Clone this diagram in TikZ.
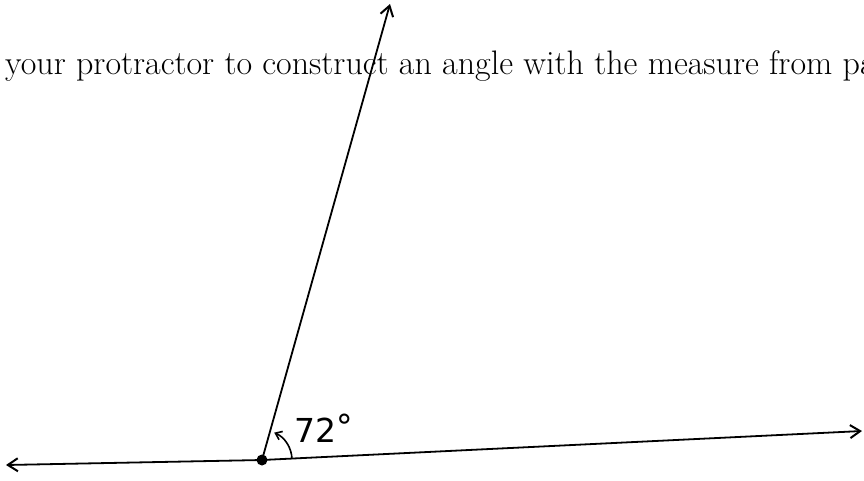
\documentclass[tikz,border=0pt]{standalone}
\usepackage{fontspec}
\newfontfamily\handfont{DejaVu Sans}
\usetikzlibrary{arrows.meta}
\begin{document}
\begin{tikzpicture}[x=1pt,y=-1pt,
  ray/.style={line width=1.8pt,-{Straight Barb[length=10pt,width=13pt,line width=2pt]}},
  lbl/.style={font=\handfont\fontsize{33}{33}\selectfont}]
\useasboundingbox (0,0) rectangle (864,480);
\node[anchor=base west,inner sep=0pt,font=\fontsize{34}{35}\selectfont] (txt) at (5,74) {your protractor to construct an angle with the measure from pa};
\coordinate (V) at (262,460);
\coordinate (T) at (390,4);
\coordinate (L) at (6,465);
\coordinate (R) at (862,431);
\draw[ray] (V) -- (T);
\draw[ray] (V) -- (L);
\draw[ray] (V) -- (R);
\fill (V) circle (5.5);
\draw[line width=1.6pt,-{Straight Barb[length=6pt,width=9pt,line width=1.6pt]}] (V) ++(-2:30) arc[start angle=-2,end angle=-66,radius=30];
\node[lbl,anchor=base west,inner sep=0pt] (ang) at (294,442) {72\raisebox{4pt}{°}};
\end{tikzpicture}
\end{document}
